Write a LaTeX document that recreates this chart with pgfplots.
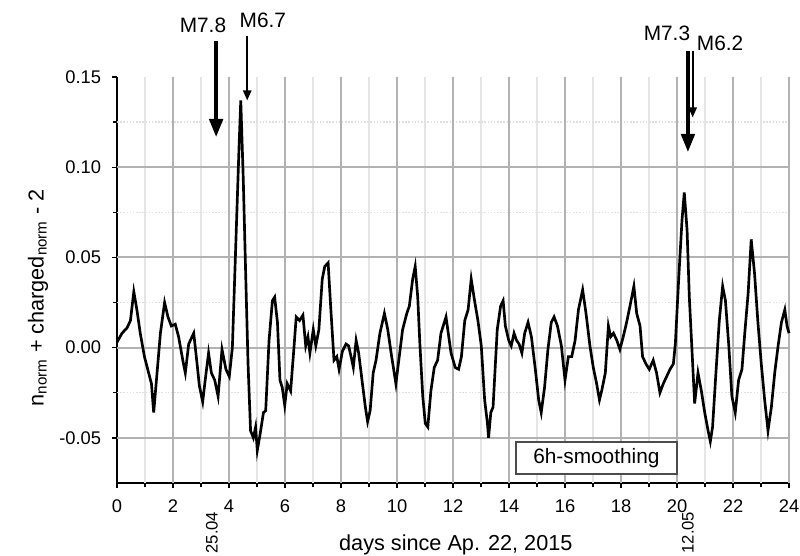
\documentclass[border=0pt]{standalone}
\usepackage{fontspec}
\setmainfont{Liberation Sans}
\usepackage{pgfplots}
\pgfplotsset{compat=1.18}
\usetikzlibrary{arrows.meta}

\begin{document}
\begin{tikzpicture}
\begin{axis}[
  scale only axis,
  width=403.2pt, height=243.6pt,
  xmin=0, xmax=24, ymin=-0.075, ymax=0.15,
  axis x line*=bottom, axis y line*=left,
  axis line style={line width=0.9pt},
  xtick={0,2,...,24}, minor x tick num=1,
  ytick={-0.05,0,0.05,0.1,0.15}, minor y tick num=1,
  tick align=outside,
  major tick length=3pt, minor tick length=2.5pt,
  tick style={black, line width=0.8pt},
  /pgf/number format/assume math mode=true,
  yticklabel style={/pgf/number format/fixed, /pgf/number format/fixed zerofill, /pgf/number format/precision=2, xshift=-3pt},
  xticklabel style={yshift=-3.5pt},
  scaled y ticks=false,
  tick label style={font=\fontsize{11}{13}\selectfont},
  clip=false,
]
% grid, drawn by hand so it sits under the curve
\pgfplotsinvokeforeach{1,3,...,23}{\draw[black!10, line width=0.8pt] (#1,-0.075) -- (#1,0.15);}
\pgfplotsinvokeforeach{-0.025,0.025,0.075,0.125}{\draw[black!12, line width=0.9pt, densely dotted] (0,#1) -- (24,#1);}
\pgfplotsinvokeforeach{2,4,...,24}{\draw[black!30, line width=1.1pt] (#1,-0.075) -- (#1,0.15);}
\pgfplotsinvokeforeach{-0.05,0.00,0.05,0.10}{\draw[black!30, line width=1.3pt] (0,#1) -- (24,#1);}
\addplot[black, line width=1.6pt] coordinates {
(0.00,0.003) (0.18,0.008) (0.36,0.011) (0.48,0.015) (0.60,0.031) (0.71,0.021)
(0.83,0.008) (0.98,-0.005) (1.13,-0.014) (1.23,-0.020) (1.31,-0.036) (1.43,-0.014)
(1.55,0.008) (1.70,0.025) (1.82,0.017) (1.94,0.012) (2.08,0.013) (2.20,0.006)
(2.35,-0.007) (2.44,-0.014) (2.56,0.002) (2.74,0.008) (2.86,-0.009) (2.94,-0.021)
(3.06,-0.030) (3.15,-0.018) (3.27,-0.003) (3.37,-0.014) (3.49,-0.018) (3.61,-0.027)
(3.75,-0.001) (3.89,-0.012) (4.01,-0.016) (4.12,0.000) (4.24,0.056) (4.36,0.112)
(4.42,0.137) (4.51,0.093) (4.60,0.038) (4.68,-0.009) (4.77,-0.046) (4.87,-0.050)
(4.95,-0.044) (5.01,-0.057) (5.11,-0.048) (5.23,-0.036) (5.31,-0.035) (5.43,0.004)
(5.55,0.026) (5.63,0.028) (5.73,0.014) (5.82,-0.018) (5.90,-0.022) (5.99,-0.032)
(6.08,-0.020) (6.20,-0.024) (6.32,0.000) (6.40,0.017) (6.52,0.015) (6.64,0.018)
(6.74,0.001) (6.82,0.006) (6.89,-0.003) (7.01,0.010) (7.10,0.001) (7.21,0.010)
(7.33,0.038) (7.42,0.045) (7.54,0.047) (7.63,0.023) (7.75,-0.007) (7.85,-0.005)
(7.93,-0.012) (8.05,-0.002) (8.18,0.002) (8.27,0.001) (8.36,-0.005) (8.44,-0.011)
(8.54,0.004) (8.63,-0.003) (8.75,-0.018) (8.87,-0.033) (8.95,-0.041) (9.04,-0.035)
(9.15,-0.014) (9.25,-0.007) (9.39,0.008) (9.55,0.019) (9.67,0.010) (9.79,-0.003)
(9.87,-0.011) (9.96,-0.020) (10.08,-0.005) (10.20,0.010) (10.35,0.019) (10.44,0.023)
(10.56,0.038) (10.65,0.045) (10.74,0.028) (10.82,0.001) (10.92,-0.027) (11.01,-0.042)
(11.10,-0.044) (11.21,-0.024) (11.33,-0.011) (11.45,-0.007) (11.57,0.008) (11.75,0.017)
(11.93,-0.003) (12.08,-0.011) (12.20,-0.012) (12.30,-0.005) (12.42,0.015) (12.54,0.021)
(12.65,0.038) (12.77,0.026) (12.89,0.015) (13.01,0.001) (13.13,-0.029) (13.23,-0.042)
(13.27,-0.050) (13.35,-0.036) (13.43,-0.033) (13.58,0.010) (13.70,0.023) (13.79,0.026)
(13.87,0.012) (13.99,0.004) (14.08,0.001) (14.18,0.008) (14.27,0.004) (14.36,0.002)
(14.46,-0.003) (14.56,0.008) (14.68,0.014) (14.80,0.006) (14.94,-0.012) (15.06,-0.029)
(15.15,-0.036) (15.27,-0.022) (15.39,-0.001) (15.51,0.014) (15.61,0.017) (15.73,0.012)
(15.87,0.001) (16.00,-0.018) (16.12,-0.005) (16.24,-0.005) (16.36,0.004) (16.48,0.021)
(16.63,0.032) (16.75,0.019) (16.89,0.001) (17.01,-0.011) (17.13,-0.020) (17.23,-0.029)
(17.31,-0.024) (17.44,-0.014) (17.55,0.012) (17.63,0.006) (17.73,0.008) (17.85,0.004)
(17.96,-0.001) (18.08,0.006) (18.20,0.014) (18.32,0.023) (18.46,0.034) (18.56,0.019)
(18.68,0.012) (18.77,-0.005) (18.89,-0.009) (19.01,-0.012) (19.15,-0.007) (19.27,-0.014)
(19.39,-0.025) (19.51,-0.020) (19.63,-0.016) (19.75,-0.012) (19.87,-0.009) (19.94,0.002)
(20.06,0.038) (20.18,0.071) (20.26,0.086) (20.36,0.065) (20.44,0.028) (20.54,-0.003)
(20.63,-0.031) (20.75,-0.014) (20.87,-0.024) (20.99,-0.036) (21.11,-0.046) (21.19,-0.052)
(21.27,-0.044) (21.39,-0.014) (21.51,0.015) (21.63,0.034) (21.73,0.026) (21.85,0.001)
(21.96,-0.027) (22.08,-0.036) (22.20,-0.018) (22.32,-0.012) (22.42,0.008) (22.54,0.030)
(22.65,0.060) (22.77,0.041) (22.89,0.014) (23.01,-0.009) (23.13,-0.029) (23.25,-0.046)
(23.37,-0.033) (23.49,-0.014) (23.61,0.001) (23.73,0.014) (23.85,0.021) (23.93,0.012)
(24.00,0.008)
};
% earthquake arrows
\draw[line width=2.4pt, -{Triangle[width=8pt,length=11pt]}] (3.54,0.1702) -- (3.54,0.1166);
\draw[line width=1pt, -{Triangle[width=5pt,length=6pt]}] (4.65,0.1729) -- (4.65,0.1370);
\draw[line width=2.4pt, -{Triangle[width=8pt,length=11pt]}] (20.39,0.1646) -- (20.39,0.1083);
\draw[line width=1pt, -{Triangle[width=5pt,length=6pt]}] (20.56,0.1646) -- (20.56,0.1276);
\node[font=\fontsize{12.5}{14}\selectfont] at (3.07,0.1785) {M7.8};
\node[font=\fontsize{12.5}{14}\selectfont] at (5.21,0.1812) {M6.7};
\node[font=\fontsize{12.5}{14}\selectfont] at (19.64,0.1740) {M7.3};
\node[font=\fontsize{12.5}{14}\selectfont] at (21.54,0.1685) {M6.2};
% box
\draw[black!70, line width=0.7pt, fill=white] (14.25,-0.0523) rectangle (20.0,-0.0700);
\node[font=\fontsize{12.5}{14}\selectfont] at (17.12,-0.0612) {6h-smoothing};
% date labels
\node[rotate=90, font=\fontsize{10}{12}\selectfont] at (3.39,-0.1025) {25.04};
\node[rotate=90, font=\fontsize{10}{12}\selectfont] at (20.39,-0.1025) {12.05};
% axis labels
\node[font=\fontsize{13}{15}\selectfont] at (12.1,-0.1093) {days since Ap. 22, 2015};
\node[rotate=90, font=\fontsize{13}{15}\selectfont] at (-2.82,0.0276) {n\textsubscript{norm} + charged\textsubscript{norm} - 2};
\coordinate (bl) at (-4.179,-0.11537);
\coordinate (tr) at (24.393,0.19266);
\end{axis}
\pgfresetboundingbox
\path[use as bounding box] (bl) rectangle (tr);
\end{tikzpicture}
\end{document}
